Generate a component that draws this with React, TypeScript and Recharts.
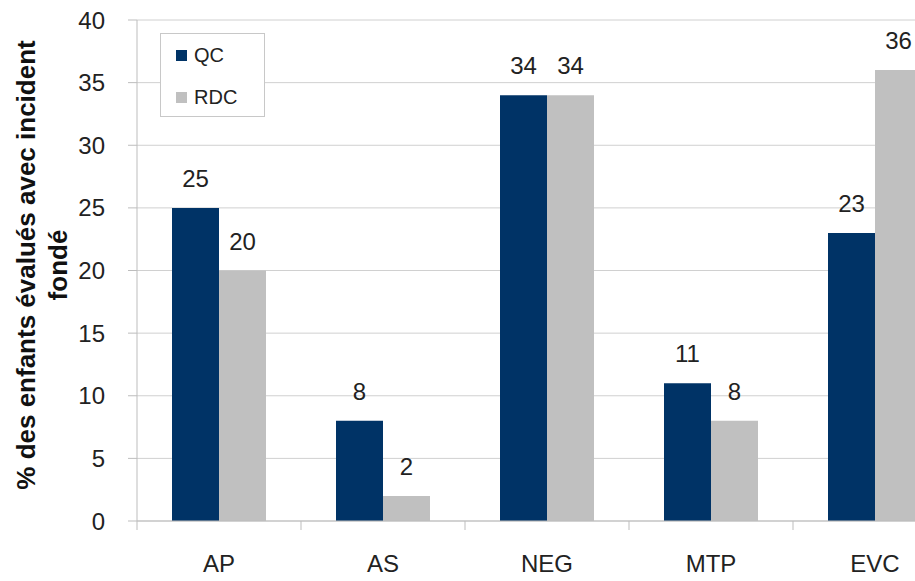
import React from 'react';
import { BarChart, Bar, XAxis, YAxis, CartesianGrid, Legend, LabelList } from 'recharts';

const categories = ['AP', 'AS', 'NEG', 'MTP', 'EVC'];
const qcValues = [25, 8, 34, 11, 23];
const rdcValues = [20, 2, 34, 8, 36];
const yTicks = [0, 5, 10, 15, 20, 25, 30, 35, 40];
const seriesNames = ['QC', 'RDC'];
const titleLines = ['% des enfants évalués avec incident', 'fondé'];

const data = categories.map((c, i) => ({ cat: c, QC: qcValues[i], RDC: rdcValues[i] }));

const FONT = '"Liberation Sans", Arial, sans-serif';
const AXIS_GRAY = '#bdbdbd';
const BAND = 164;

const XTick = (props: any) => {
  const { x, y, payload } = props;
  return (
    <g>
      <line x1={x - BAND / 2} x2={x - BAND / 2} y1={y} y2={y + 9} stroke={AXIS_GRAY} />
      <text x={x} y={y + 51} textAnchor="middle" fontSize={24} fill="#222">
        {payload.value}
      </text>
    </g>
  );
};

const renderYTitle = () => (
  <text
    transform="translate(35,265) rotate(-90)"
    textAnchor="middle"
    fontWeight="bold"
    fontSize={26}
    fill="#111"
  >
    <tspan x={0} dy={0}>{titleLines[0]}</tspan>
    <tspan x={0} dy={32}>{titleLines[1]}</tspan>
  </text>
);

const renderLegend = (props: any) => {
  const { payload } = props;
  return (
    <div
      style={{
        width: 105,
        height: 84,
        boxSizing: 'border-box',
        border: '1px solid #c8c8c8',
        background: '#fff',
        fontFamily: FONT,
        fontSize: 20,
        color: '#222',
        paddingLeft: 15,
      }}
    >
      {payload.map((e: any, i: number) => (
        <div key={i} style={{ display: 'flex', alignItems: 'center', height: 42 }}>
          <span style={{ display: 'inline-block', width: 11, height: 11, background: e.color, marginRight: 7 }} />
          <span>{e.value}</span>
        </div>
      ))}
    </div>
  );
};

export default function App() {
  return (
    <div
      style={{
        position: 'absolute',
        left: 0,
        top: 0,
        width: 915,
        height: 581,
        overflow: 'hidden',
        background: '#fff',
        fontFamily: FONT,
      }}
    >
      <BarChart
        width={960}
        height={600}
        data={data}
        margin={{ top: 20, right: 3, left: 0, bottom: 19 }}
        barGap={0}
        barSize={47}
      >
        <CartesianGrid vertical={false} stroke="#d0d0d0" />
        <XAxis
          dataKey="cat"
          interval={0}
          height={60}
          tickSize={0}
          tickMargin={0}
          tickLine={false}
          axisLine={{ stroke: AXIS_GRAY }}
          tick={<XTick />}
        />
        <YAxis
          width={137}
          domain={[0, 40]}
          ticks={yTicks}
          tickSize={9}
          tickMargin={23}
          axisLine={{ stroke: AXIS_GRAY }}
          tickLine={{ stroke: AXIS_GRAY }}
          tick={{ fill: '#222', fontSize: 24 }}
          label={{ content: renderYTitle }}
        />
        <Legend
          layout="vertical"
          align="center"
          verticalAlign="middle"
          content={renderLegend}
          wrapperStyle={{ position: 'absolute', top: 33, left: 160, width: 105, height: 84 }}
        />
        <Bar dataKey="QC" name={seriesNames[0]} fill="#003366" isAnimationActive={false}>
          <LabelList dataKey="QC" position="top" offset={21} fill="#222" fontSize={24} />
        </Bar>
        <Bar dataKey="RDC" name={seriesNames[1]} fill="#c0c0c0" isAnimationActive={false}>
          <LabelList dataKey="RDC" position="top" offset={21} fill="#222" fontSize={24} />
        </Bar>
      </BarChart>
    </div>
  );
}
